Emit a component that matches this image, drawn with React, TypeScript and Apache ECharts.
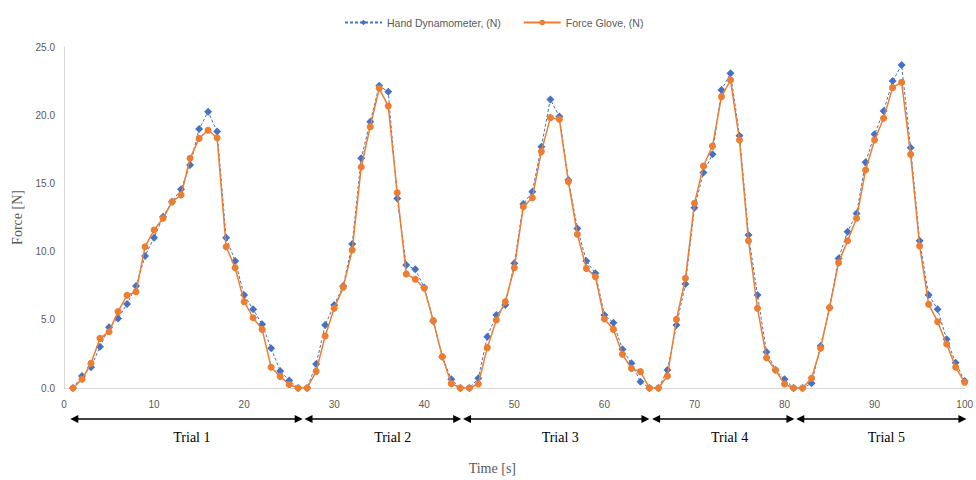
import React, { useEffect, useRef } from "react";
import * as echarts from "echarts";

const timeSeconds = [
  1, 2, 3, 4, 5, 6, 7, 8, 9, 10,
  11, 12, 13, 14, 15, 16, 17, 18, 19, 20,
  21, 22, 23, 24, 25, 26, 27, 28, 29, 30,
  31, 32, 33, 34, 35, 36, 37, 38, 39, 40,
  41, 42, 43, 44, 45, 46, 47, 48, 49, 50,
  51, 52, 53, 54, 55, 56, 57, 58, 59, 60,
  61, 62, 63, 64, 65, 66, 67, 68, 69, 70,
  71, 72, 73, 74, 75, 76, 77, 78, 79, 80,
  81, 82, 83, 84, 85, 86, 87, 88, 89, 90,
  91, 92, 93, 94, 95, 96, 97, 98, 99, 100,
];

const handDynamometer = [
  0, 0.88, 1.52, 3.03, 4.45, 5.1, 6.16, 7.48, 9.68, 11.02,
  12.56, 13.66, 14.57, 16.35, 18.99, 20.26, 18.8, 11.02, 9.31, 6.82,
  5.77, 4.67, 2.91, 1.25, 0.55, 0, 0, 1.76, 4.62, 6.08,
  7.48, 10.56, 16.84, 19.52, 22.16, 21.72, 13.9, 9.02, 8.7, 7.36,
  4.9, 2.3, 0.64, 0, 0, 0.71, 3.76, 5.35, 6.08, 9.14,
  13.49, 14.39, 17.69, 21.16, 19.9, 15.25, 11.7, 9.31, 8.41, 5.35,
  4.79, 2.84, 1.81, 0.46, 0, 0, 1.32, 4.62, 7.62, 13.22,
  15.79, 17.13, 21.85, 23.07, 18.5, 11.22, 6.82, 2.64, 1.32, 0.64,
  0, 0, 0.34, 3.08, 5.9, 9.5, 11.46, 12.8, 16.55, 18.6,
  20.31, 22.5, 23.68, 17.62, 10.8, 6.82, 5.77, 3.57, 1.85, 0.51,
];

const forceGlove = [
  0, 0.64, 1.81, 3.64, 4.13, 5.6, 6.8, 7.06, 10.36, 11.58,
  12.44, 13.66, 14.15, 16.84, 18.3, 18.9, 18.35, 10.36, 8.82, 6.33,
  5.15, 4.3, 1.52, 0.85, 0.26, 0, 0, 1.22, 3.81, 5.84,
  7.38, 10.12, 16.2, 19.16, 21.97, 20.67, 14.32, 8.36, 7.97, 7.31,
  4.94, 2.3, 0.32, 0, 0, 0.29, 2.96, 4.99, 6.33, 8.82,
  13.29, 13.95, 17.33, 19.82, 19.7, 15.13, 11.27, 8.77, 8.16, 5.06,
  4.3, 2.47, 1.44, 1.2, 0, 0, 0.88, 5.03, 8.04, 13.54,
  16.28, 17.74, 21.36, 22.58, 18.18, 10.8, 5.84, 2.22, 1.32, 0.29,
  0, 0, 0.71, 2.91, 5.89, 9.19, 10.8, 12.44, 15.98, 18.18,
  19.77, 22.02, 22.41, 17.13, 10.41, 6.14, 4.86, 3.23, 1.52, 0.42,
];

const trialLabels = ["Trial 1", "Trial 2", "Trial 3", "Trial 4", "Trial 5"];
const trialStarts = [0.7, 26.7, 44.3, 65.3, 81.3];
const trialEnds = [26.5, 44.1, 65.0, 81.1, 100.2];
const trialLabelCenters = [14.2, 36.5, 55.1, 73.9, 91.3];

export default function App() {
  const ref = useRef<HTMLDivElement>(null);

  useEffect(() => {
    if (!ref.current) return;
    const chart = echarts.init(ref.current, null, { renderer: "svg" });
    const pairs = (vals: number[]) => timeSeconds.map((t, i) => [t, vals[i]]);

    chart.setOption({
      animation: false,
      backgroundColor: "#ffffff",
      grid: { left: 64, top: 47, width: 904, height: 341 },
      legend: {
        left: 339,
        top: 12,
        itemWidth: 37,
        itemHeight: 7,
        itemGap: 22,
        textStyle: { color: "#595959", fontSize: 10.5, fontFamily: "Liberation Sans" },
        data: ["Hand Dynamometer, (N)", "Force Glove, (N)"],
      },
      xAxis: {
        type: "value",
        min: 0,
        max: 100,
        interval: 10,
        axisLine: { show: true, lineStyle: { color: "#d9d9d9", width: 1 } },
        axisTick: { show: false },
        splitLine: { show: false },
        axisLabel: { color: "#595959", fontSize: 10, margin: 11, fontFamily: "Liberation Sans" },
        name: "Time [s]",
        nameLocation: "middle",
        nameGap: 73,
        nameTextStyle: {
          fontFamily: "Liberation Serif",
          fontSize: 14,
          color: "#595959",
          padding: [0, 44, 0, 0],
        },
      },
      yAxis: {
        type: "value",
        min: 0,
        max: 25,
        interval: 5,
        axisLine: { show: true, lineStyle: { color: "#d9d9d9", width: 1 } },
        axisTick: { show: false },
        splitLine: { show: false },
        axisLabel: {
          color: "#595959",
          fontSize: 10,
          margin: 9,
          fontFamily: "Liberation Sans",
          formatter: (v: number) => v.toFixed(1),
        },
        name: "Force [N]",
        nameLocation: "middle",
        nameGap: 39,
        nameTextStyle: {
          fontFamily: "Liberation Serif",
          fontSize: 14,
          color: "#595959",
        },
      },
      series: [
        {
          name: "Hand Dynamometer, (N)",
          type: "line",
          data: pairs(handDynamometer),
          symbol: "diamond",
          symbolSize: 8,
          showAllSymbol: true,
          itemStyle: { color: "#4472C4" },
          lineStyle: { color: "#4472C4", width: 1, type: [3, 2] },
          z: 2,
        },
        {
          name: "Force Glove, (N)",
          type: "line",
          data: pairs(forceGlove),
          symbol: "circle",
          symbolSize: 7,
          showAllSymbol: true,
          itemStyle: { color: "#ED7D31" },
          lineStyle: { color: "#ED7D31", width: 1.5 },
          z: 3,
        },
      ],
    });

    const arrowY = 419;
    const labelY = 437;
    const graphics: any[] = [];
    trialStarts.forEach((s, i) => {
      const x1 = chart.convertToPixel({ xAxisIndex: 0 }, s) as number;
      const x2 = chart.convertToPixel({ xAxisIndex: 0 }, trialEnds[i]) as number;
      const lc = chart.convertToPixel({ xAxisIndex: 0 }, trialLabelCenters[i]) as number;
      graphics.push({
        type: "line",
        shape: { x1: x1 + 6, y1: arrowY, x2: x2 - 6, y2: arrowY },
        style: { stroke: "#000", lineWidth: 1.5 },
        silent: true,
      });
      graphics.push({
        type: "polygon",
        shape: { points: [[x1, arrowY], [x1 + 8, arrowY - 4], [x1 + 8, arrowY + 4]] },
        style: { fill: "#000" },
        silent: true,
      });
      graphics.push({
        type: "polygon",
        shape: { points: [[x2, arrowY], [x2 - 8, arrowY - 4], [x2 - 8, arrowY + 4]] },
        style: { fill: "#000" },
        silent: true,
      });
      graphics.push({
        type: "text",
        x: lc,
        y: labelY,
        style: {
          text: trialLabels[i],
          fill: "#000",
          font: "14px 'Liberation Serif'",
          textAlign: "center",
          textVerticalAlign: "middle",
        },
        silent: true,
      });
    });
    chart.setOption({ graphic: graphics });

    return () => chart.dispose();
  }, []);

  return (
    <div
      ref={ref}
      style={{ position: "fixed", left: 0, top: 0, width: 976, height: 480 }}
    />
  );
}
